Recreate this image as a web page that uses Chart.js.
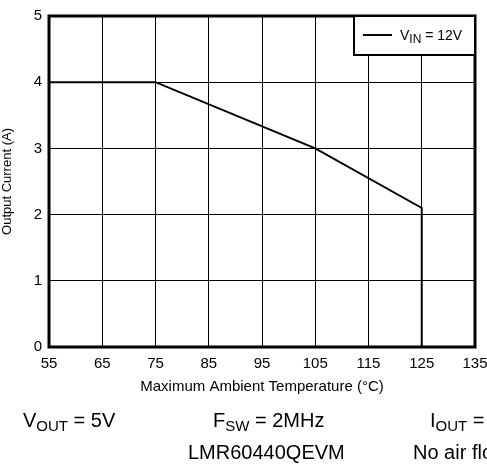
<!DOCTYPE html>
<html>
<head>
<meta charset="utf-8">
<script src="https://cdn.jsdelivr.net/npm/chart.js@4/dist/chart.umd.min.js"></script>
<style>
  html, body { margin: 0; padding: 0; background: #fff; }
  #wrap { width: 487px; height: 465px; position: relative; }
</style>
</head>
<body>
<div id="wrap"><canvas id="myChart" width="487" height="465"></canvas></div>
<script>
// derating curve
const temps = [55, 75, 105, 125, 125];
const current = [4, 4, 3, 2.1, 0];
const xTicks = [55, 65, 75, 85, 95, 105, 115, 125, 135];
const yTicks = [0, 1, 2, 3, 4, 5];

const FONT = 'Arial, "Liberation Sans", sans-serif';

// draw text with a subscript part: parts = [[text, isSub], ...]
function drawRich(ctx, parts, x, y, size, subSize, subDrop) {
  let cx = x;
  parts.forEach(([t, sub]) => {
    ctx.font = (sub ? subSize : size) + 'px ' + FONT;
    ctx.fillText(t, cx, sub ? y + subDrop : y);
    cx += ctx.measureText(t).width;
  });
}

const extras = {
  id: 'extras',
  afterDraw(chart) {
    const ctx = chart.ctx;
    const a = chart.chartArea;
    ctx.save();
    // plot frame
    ctx.strokeStyle = '#000';
    ctx.lineWidth = 3;
    ctx.strokeRect(a.left, a.top, a.right - a.left, a.bottom - a.top);

    // legend box in the top right corner
    const bx = a.right - 121, by = a.top, bw = 121, bh = 39;
    ctx.fillStyle = '#fff';
    ctx.fillRect(bx, by, bw, bh);
    ctx.lineWidth = 2;
    ctx.strokeRect(bx, by, bw, bh);
    ctx.beginPath();
    ctx.lineWidth = 2;
    ctx.moveTo(bx + 9, by + 19);
    ctx.lineTo(bx + 38, by + 19);
    ctx.stroke();
    ctx.fillStyle = '#000';
    ctx.textBaseline = 'alphabetic';
    ctx.textAlign = 'left';
    drawRich(ctx, [['V', false], ['IN', true], [' = 12V', false]], bx + 46, by + 24, 14, 12, 3);

    // conditions under the chart
    drawRich(ctx, [['V', false], ['OUT', true], [' = 5V', false]], 23, 427, 20, 15, 4);
    drawRich(ctx, [['F', false], ['SW', true], [' = 2MHz', false]], 213, 427, 20, 15, 4);
    drawRich(ctx, [['I', false], ['OUT', true], [' = ', false]], 430, 427, 20, 15, 4);
    drawRich(ctx, [['LMR60440QEVM', false]], 188, 459, 20, 15, 4);
    drawRich(ctx, [['No air flow', false]], 413, 459, 20, 15, 4);
    ctx.restore();
  }
};

new Chart(document.getElementById('myChart').getContext('2d'), {
  type: 'line',
  data: {
    datasets: [{
      label: 'VIN = 12V',
      data: temps.map((t, i) => ({ x: t, y: current[i] })),
      borderColor: '#000',
      borderWidth: 2,
      pointRadius: 0,
      tension: 0,
      fill: false
    }]
  },
  options: {
    responsive: false,
    animation: false,
    layout: { padding: { top: 14, right: 12, left: 0, bottom: 68 } },
    plugins: { legend: { display: false }, tooltip: { enabled: false } },
    scales: {
      x: {
        type: 'linear',
        min: 55, max: 135,
        afterBuildTicks: s => { s.ticks = xTicks.map(v => ({ value: v })); },
        afterFit: s => { s.height = 50; s.paddingRight = 0; s.paddingLeft = 0; },
        grid: { color: '#000', lineWidth: 1, drawTicks: false },
        border: { display: false },
        ticks: { color: '#000', font: { size: 15, family: FONT }, padding: 8, maxRotation: 0 },
        title: {
          display: true, text: 'Maximum Ambient Temperature (°C)',
          color: '#000', font: { size: 15, family: FONT }, padding: { top: 0, bottom: 1 }
        }
      },
      y: {
        min: 0, max: 5,
        afterBuildTicks: s => { s.ticks = yTicks.map(v => ({ value: v })); },
        afterFit: s => { s.width = 49; },
        grid: { color: '#000', lineWidth: 1, drawTicks: false },
        border: { display: false },
        ticks: { color: '#000', font: { size: 15, family: FONT }, padding: 7 },
        title: {
          display: true, text: 'Output Current (A)',
          color: '#000', font: { size: 13, family: FONT }, padding: 0
        }
      }
    }
  },
  plugins: [extras]
});
</script>
</body>
</html>
